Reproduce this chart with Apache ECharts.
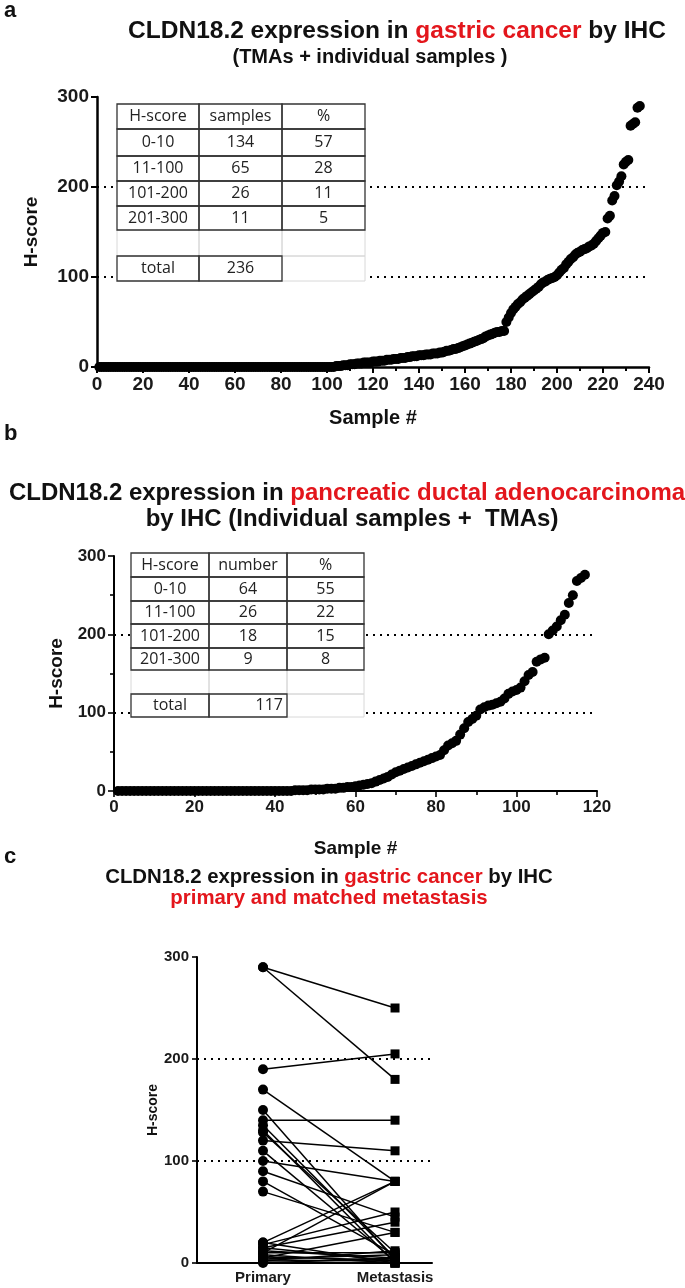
<!DOCTYPE html>
<html><head><meta charset="utf-8">
<script src="https://cdn.jsdelivr.net/npm/echarts@6/dist/echarts.min.js"></script>
<style>html,body{margin:0;padding:0;background:#fff}#c{width:685px;height:1288px}</style>
</head><body><div id="c"></div>
<script>
// ---------- DATA ----------
// Panel a: gastric cancer H-scores, sorted, samples 1..236
const gastricHScore = [
  0,0,0,0,0,0,0,0,0,0, 0,0,0,0,0,0,0,0,0,0,
  0,0,0,0,0,0,0,0,0,0, 0,0,0,0,0,0,0,0,0,0,
  0,0,0,0,0,0,0,0,0,0, 0,0,0,0,0,0,0,0,0,0,
  0,0,0,0,0,0,0,0,0,0, 0,0,0,0,0,0,0,0,0,0,
  0,0,0,0,0,0,0,0,0,0, 0,0,0,0,0,0,0,0,0,0,
  0,0,0,
  1,1,1,2,2,2,3,3,3,4,4,4,5,5,5,5,6,6,6,7,7,7,8,8,8,9,9,9,10,10,10,
  11,11,12,12,12,13,13,13,14,14,14,15,15,15,
  16,16,17,18,18,19,20,20,21,
  22,23,24,25,26,27,28,29,
  30,31,32,34,35,36,37,38,
  39,39,40,40,
  50,55,60,64,
  67,70,72,75,77,
  79,81,83,85,
  87,89,92,94,
  95,97,98,99,100,
  102,105,108,110,
  114,117,120,122,
  125,127,128,130,
  131,132,134,135,137,
  140,143,146,149,
  150,165,168,
  185,190,
  202,206,212,225,228,230,268,270,272,288,290
];
// Panel b: PDAC H-scores, sorted, samples 1..117
const pdacHScore = [
  0,0,0,0,0,0,0,0,0,0, 0,0,0,0,0,0,0,0,0,0,
  0,0,0,0,0,0,0,0,0,0, 0,0,0,0,0,0,0,0,0,0,
  0,0,0,0,
  1,1,1,1,2,2,2,2,3,3,3,4,4,5,5,6,7,8,9,10,
  12,14,16,18,21,24,26,28,30,32,34,36,38,40,42,44,46,52,58,61,64,72,80,88,92,96,
  104,107,109,110,112,114,118,124,127,129,132,140,148,152,165,168,170,200,
  205,210,218,225,240,250,268,272,276
];
// Tables
const tableAHead = ['H-score', 'samples', '%'];
const tableARanges = ['0-10', '11-100', '101-200', '201-300'];
const tableACounts = [134, 65, 26, 11];
const tableAPct = [57, 28, 11, 5];
const tableATotal = 236;
const tableBHead = ['H-score', 'number', '%'];
const tableBRanges = ['0-10', '11-100', '101-200', '201-300'];
const tableBCounts = [64, 26, 18, 9];
const tableBPct = [55, 22, 15, 8];
const tableBTotal = 117;
// Panel c: matched primary / metastasis
const pairCategories = ['Primary', 'Metastasis'];
const matchedPrimary    = [290,290,190,170,150,140,135,130,128,120,110,100,90,80,70,20,18,15,12,10,10,8,6,5,4,3,2,1,0,15,20];
const matchedMetastasis = [250,180,205, 80,  3,140,  5,  0, 10,110,  2, 80,45, 8,30,80,50,40, 5,80,10,0,3,30,8,2,12,0,5, 2, 0];
const thresholdLines = [100, 200];

// ---------- STYLE ----------
const F = "'Liberation Sans', Arial, sans-serif";
const TF = "'Open Sans', 'Liberation Sans', sans-serif";
const RED = '#e3161c';
const INK = '#111';

function richTitle(parts, size, x, top) {
  let text = parts.map(p => '{' + (p[1] ? 'r' : 'k') + '|' + p[0] + '}').join('');
  return {
    text, left: x, top, textAlign: 'center', padding: 0,
    textStyle: { rich: {
      k: { color: INK, fontSize: size, fontWeight: 'bold', fontFamily: F },
      r: { color: RED, fontSize: size, fontWeight: 'bold', fontFamily: F }
    } }
  };
}
function letter(t, top) {
  return { text: t, left: 4, top, padding: 0, textStyle: { fontSize: 22, fontWeight: 'bold', color: INK, fontFamily: F } };
}

function buildTable(box, head, ranges, counts, pct, total, totalRight) {
  const els = [];
  const xs = [box.x];
  box.colW.forEach(w => xs.push(xs[xs.length - 1] + w));
  const ys = box.ys;
  const rect = (x, y, w, h, stroke, fill) => ({
    type: 'rect', z: 50, silent: true,
    shape: { x, y, width: w, height: h },
    style: { fill: fill || 'none', stroke: stroke || 'none', lineWidth: stroke === '#333' ? 1.3 : 1 }
  });
  const txt = (s, x, y, align) => ({
    type: 'text', z: 52, silent: true, x, y,
    style: { text: s, fill: '#222', font: box.font, textAlign: align || 'center', align: align || 'center',
             textVerticalAlign: 'middle', verticalAlign: 'middle' }
  });
  els.push(rect(xs[0], ys[0], xs[3] - xs[0], ys[7] - ys[0], null, '#fff'));
  const light = '#d8d8d8', dark = '#333';
  for (let c = 0; c < 3; c++) els.push(rect(xs[c], ys[5], box.colW[c], ys[6] - ys[5], light));
  els.push(rect(xs[2], ys[6], box.colW[2], ys[7] - ys[6], light));
  for (let r = 0; r < 5; r++) for (let c = 0; c < 3; c++) els.push(rect(xs[c], ys[r], box.colW[c], ys[r + 1] - ys[r], dark));
  for (let c = 0; c < 2; c++) els.push(rect(xs[c], ys[6], box.colW[c], ys[7] - ys[6], dark));
  const rows = [head].concat(ranges.map((r, i) => [r, String(counts[i]), String(pct[i])]));
  rows.forEach((row, r) => row.forEach((s, c) => {
    els.push(txt(s, (xs[c] + xs[c + 1]) / 2, (ys[r] + ys[r + 1]) / 2));
  }));
  els.push(txt('total', (xs[0] + xs[1]) / 2, (ys[6] + ys[7]) / 2));
  if (totalRight) els.push(txt(String(total), xs[2] - 4, (ys[6] + ys[7]) / 2, 'right'));
  else els.push(txt(String(total), (xs[1] + xs[2]) / 2, (ys[6] + ys[7]) / 2));
  return els;
}

function axisCommon(lw, fs, tickLen) {
  return {
    axisLine: { show: true, onZero: false, lineStyle: { color: '#000', width: lw } },
    axisTick: { show: true, length: tickLen, lineStyle: { color: '#000', width: lw * 0.8 } },
    axisLabel: { color: '#1a1a1a', fontSize: fs, fontWeight: 'bold', fontFamily: F },
    splitLine: { show: false }
  };
}

const dotted = (vals) => ({
  silent: true, symbol: ['none', 'none'], label: { show: false },
  lineStyle: { color: '#000', type: [2, 5], width: 2 },
  data: vals.map(v => ({ yAxis: v }))
});

const chart = echarts.init(document.getElementById('c'), null, { renderer: 'canvas' });

const xA = Object.assign(axisCommon(2.5, 19, 6), {
  gridIndex: 0, type: 'value', min: 0, max: 240, interval: 20,
  minorTick: { show: true, splitNumber: 2, length: 4, lineStyle: { color: '#000', width: 2 } },
  name: 'Sample #', nameLocation: 'middle', nameGap: 41,
  nameTextStyle: { fontSize: 20, fontWeight: 'bold', color: INK, fontFamily: F }
});
const yA = Object.assign(axisCommon(2.5, 19, 6), {
  gridIndex: 0, type: 'value', min: 0, max: 300, interval: 100,
  name: 'H-score', nameLocation: 'middle', nameGap: 56,
  nameTextStyle: { fontSize: 19, fontWeight: 'bold', color: INK, fontFamily: F }
});
const xB = Object.assign(axisCommon(2, 17, 6), {
  gridIndex: 1, type: 'value', min: 0, max: 120, interval: 20,
  minorTick: { show: true, splitNumber: 2, length: 4, lineStyle: { color: '#000', width: 1.6 } },
  name: 'Sample #', nameLocation: 'middle', nameGap: 48,
  nameTextStyle: { fontSize: 19, fontWeight: 'bold', color: INK, fontFamily: F }
});
const yB = Object.assign(axisCommon(2, 17, 6), {
  gridIndex: 1, type: 'value', min: 0, max: 300, interval: 100,
  minorTick: { show: true, splitNumber: 2, length: 4, lineStyle: { color: '#000', width: 1.6 } },
  name: 'H-score', nameLocation: 'middle', nameGap: 42,
  nameTextStyle: { fontSize: 19, fontWeight: 'bold', color: INK, fontFamily: F }
});
const xC = Object.assign(axisCommon(2, 15, 5), {
  gridIndex: 2, type: 'value', min: -0.5, max: 1.28,
  axisTick: { show: false },
  axisLabel: { color: '#1a1a1a', fontSize: 15, fontWeight: 'bold', fontFamily: F, margin: 7,
    customValues: [0, 1], formatter: v => pairCategories[Math.round(v)] }
});
const yC = Object.assign(axisCommon(2, 15, 5), {
  gridIndex: 2, type: 'value', min: 0, max: 300, interval: 100,
  name: 'H-score', nameLocation: 'middle', nameGap: 26,
  nameTextStyle: { fontSize: 14, fontWeight: 'bold', color: INK, fontFamily: F }
});

const series = [
  { type: 'scatter', xAxisIndex: 0, yAxisIndex: 0, symbol: 'circle', symbolSize: 10,
    itemStyle: { color: '#000', opacity: 1 }, silent: true,
    data: gastricHScore.map((v, i) => [i + 1, v]), markLine: dotted(thresholdLines) },
  { type: 'scatter', xAxisIndex: 1, yAxisIndex: 1, symbol: 'circle', symbolSize: 10,
    itemStyle: { color: '#000', opacity: 1 }, silent: true,
    data: pdacHScore.map((v, i) => [i + 1, v]), markLine: dotted(thresholdLines) }
];
matchedPrimary.forEach((p, i) => {
  const s = {
    type: 'line', xAxisIndex: 2, yAxisIndex: 2, silent: true, showSymbol: true,
    lineStyle: { color: '#000', width: 1.5 }, itemStyle: { color: '#000', opacity: 1 },
    data: [
      { value: [0, p], symbol: 'circle', symbolSize: 10 },
      { value: [1, matchedMetastasis[i]], symbol: 'rect', symbolSize: 9 }
    ]
  };
  if (i === 0) s.markLine = dotted(thresholdLines);
  series.push(s);
});

const option = {
  animation: false,
  backgroundColor: '#fff',
  title: [
    letter('a', 0),
    richTitle([['CLDN18.2 expression in '], ['gastric cancer', 1], [' by IHC']], 24.5, 397, 19),
    richTitle([['(TMAs + individual samples )']], 20, 370, 47),
    letter('b', 423),
    richTitle([['CLDN18.2 expression in '], ['pancreatic ductal adenocarcinoma', 1]], 24, 347, 481),
    richTitle([['by IHC (Individual samples +  TMAs)']], 24, 352, 507),
    letter('c', 846),
    richTitle([['CLDN18.2 expression in '], ['gastric cancer', 1], [' by IHC']], 20.4, 329, 867),
    richTitle([['primary and matched metastasis', 1]], 20.4, 329, 888)
  ],
  grid: [
    { left: 97, top: 97, width: 552, height: 270 },
    { left: 114, top: 556, width: 483, height: 235 },
    { left: 197, top: 957, width: 235, height: 306 }
  ],
  xAxis: [xA, xB, xC],
  yAxis: [yA, yB, yC],
  series,
  graphic: buildTable({ x: 117, colW: [82, 83, 83], ys: [104, 129, 156, 181, 206, 230, 256, 281], font: '16px ' + TF },
      tableAHead, tableARanges, tableACounts, tableAPct, tableATotal, false)
    .concat(buildTable({ x: 131, colW: [78, 78, 77], ys: [553, 577, 601, 624, 648, 670, 694, 717], font: '16px ' + TF },
      tableBHead, tableBRanges, tableBCounts, tableBPct, tableBTotal, true))
};
chart.setOption(option);
</script></body></html>
